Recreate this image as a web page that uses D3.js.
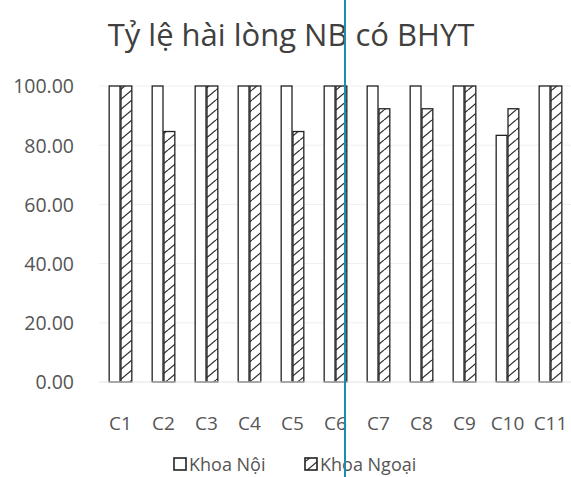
<!DOCTYPE html>
<html><head><meta charset="utf-8">
<script src="https://cdn.jsdelivr.net/npm/d3@7"></script>
<style>body{margin:0;background:#fff}svg{display:block}</style>
</head><body>
<script>
const categories = ["C1","C2","C3","C4","C5","C6","C7","C8","C9","C10","C11"];
const khoaNoi = [100,100,100,100,100,100,100,100,100,83.33,100];
const khoaNgoai = [100,84.62,100,100,84.62,100,92.31,92.31,100,92.31,100];
const seriesNames = ["Khoa Nội","Khoa Ngoại"];
const yTicks = [0,20,40,60,80,100];
const title = "Tỷ lệ hài lòng NB có BHYT";

const W=571,H=477;
const font="'Open Sans', sans-serif";
const svg=d3.select("body").append("svg").attr("width",W).attr("height",H);
const defs=svg.append("defs");
const pat=defs.append("pattern").attr("id","hatch").attr("patternUnits","userSpaceOnUse")
  .attr("width",12).attr("height",10);
pat.append("rect").attr("width",12).attr("height",10).attr("fill","#fff");
pat.append("path").attr("d","M0,10 L12,0 M-12,10 L0,0 M12,10 L24,0").attr("stroke","#333").attr("stroke-width",1.3);

const x=d3.scaleBand().domain(categories).range([99,572]).paddingInner(0.45).paddingOuter(0.225);
const y=d3.scaleLinear().domain([0,100]).range([382,86]);
const x1=d3.scaleBand().domain([0,1]).range([0,x.bandwidth()]);

// gridlines
svg.append("g").selectAll("line").data(yTicks.slice(1)).join("line")
  .attr("x1",99).attr("x2",572).attr("y1",d=>y(d)).attr("y2",d=>y(d))
  .attr("stroke","#efefef").attr("stroke-width",1);

// y axis labels
const yAxis=d3.axisLeft(y).tickValues(yTicks).tickFormat(d3.format(".2f")).tickSize(0).tickPadding(0);
const ya=svg.append("g").attr("transform","translate(74,0)").call(yAxis);
ya.select(".domain").remove();
ya.selectAll("text").attr("font-family",font).attr("font-size",19.5).attr("fill","#555").attr("dy","0.35em");

// bars
const g=svg.append("g");
categories.forEach((c,i)=>{
  [khoaNoi[i],khoaNgoai[i]].forEach((v,s)=>{
    g.append("rect").attr("x",x(c)+x1(s)+0.5).attr("y",y(v))
      .attr("width",x1.bandwidth()-1).attr("height",y(0)-y(v))
      .attr("fill",s===0?"#fff":"url(#hatch)").attr("stroke","#222").attr("stroke-width",1.3);
  });
});

// baseline
svg.append("line").attr("x1",99).attr("x2",572).attr("y1",y(0)).attr("y2",y(0)).attr("stroke","#e2e2e2");

// x labels
const xAxis=d3.axisBottom(x).tickSize(0).tickPadding(0);
const xa=svg.append("g").attr("transform","translate(0,"+(y(0)+48)+")").call(xAxis);
xa.select(".domain").remove();
xa.selectAll("text").attr("font-family",font).attr("font-size",19).attr("fill","#555").attr("dy","0");

// title
svg.append("text").attr("x",291).attr("y",46).attr("text-anchor","middle")
  .attr("font-family",font).attr("font-size",31).attr("fill","#404040").text(title);

// legend
const lg=svg.append("g").attr("transform","translate(174,471)");
[0,1].forEach(s=>{
  const gx=s===0?0:131;
  lg.append("rect").attr("x",gx).attr("y",-13).attr("width",12).attr("height",12)
    .attr("fill",s===0?"#fff":"url(#hatch)").attr("stroke","#222").attr("stroke-width",1.6);
  lg.append("text").attr("x",gx+15).attr("y",0).attr("font-family",font).attr("font-size",18)
    .attr("fill","#555").text(seriesNames[s]);
});

// scan fold line
svg.append("line").attr("x1",345).attr("x2",345).attr("y1",0).attr("y2",H).attr("stroke","#1a8db0").attr("stroke-width",2);
</script>
</body></html>
